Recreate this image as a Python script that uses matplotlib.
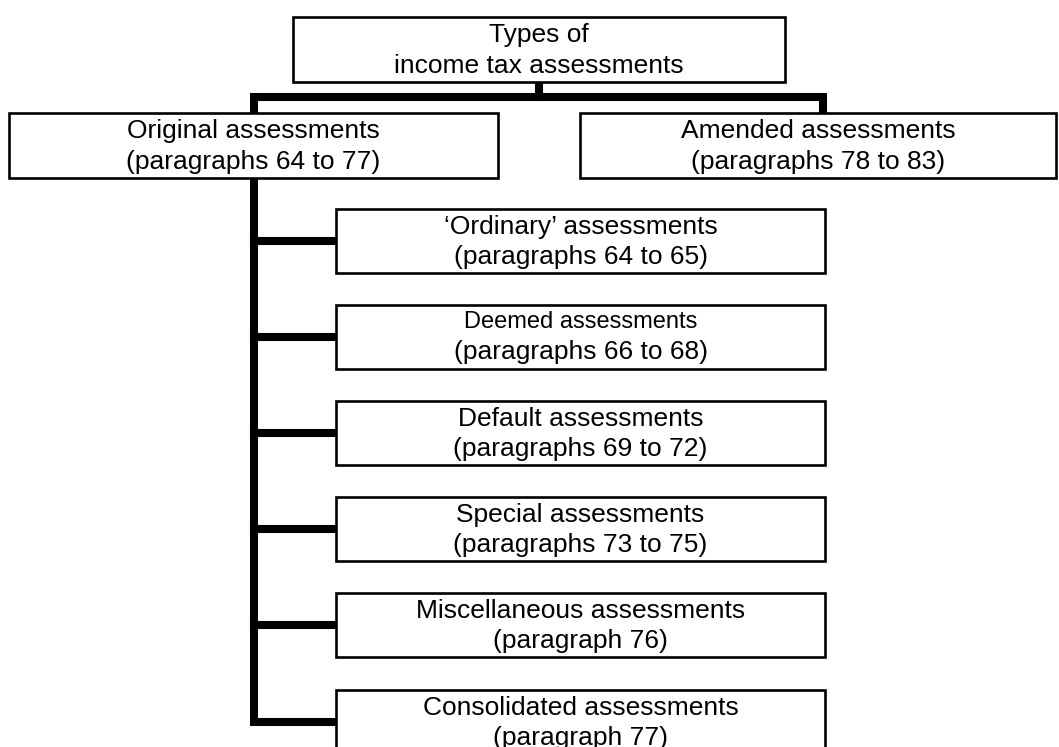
import matplotlib
matplotlib.use('Agg')
import matplotlib.pyplot as plt
from matplotlib.patches import Rectangle

plt.rcParams['font.family'] = ['Liberation Sans', 'DejaVu Sans']

# chart content
root_label = 'Types of\nincome tax assessments'
level1_labels = ['Original assessments\n(paragraphs 64 to 77)',
                 'Amended assessments\n(paragraphs 78 to 83)']
child_titles = ['\u2018Ordinary\u2019 assessments', 'Deemed assessments',
                'Default assessments', 'Special assessments',
                'Miscellaneous assessments', 'Consolidated assessments']
child_refs = ['(paragraphs 64 to 65)', '(paragraphs 66 to 68)',
              '(paragraphs 69 to 72)', '(paragraphs 73 to 75)',
              '(paragraph 76)', '(paragraph 77)']

# layout (pixel coords, y downwards)
W, H = 1059, 747
fig = plt.figure(figsize=(W / 100, H / 100), dpi=100)
ax = fig.add_axes([0, 0, 1, 1])
ax.set_xlim(0, W)
ax.set_ylim(H, 0)
ax.axis('off')

thin = 1.9
thick = 5.8
fs = 19


def box(x0, y0, x1, y1, text, size=fs):
    ax.add_patch(Rectangle((x0, y0), x1 - x0, y1 - y0, facecolor='white',
                           edgecolor='black', lw=thin, zorder=3))
    ax.text((x0 + x1) / 2, (y0 + y1) / 2 + 1, text, ha='center', va='center',
            fontsize=size, linespacing=1.32, zorder=4)


def line(xs, ys, lw=thick):
    ax.plot(xs, ys, color='black', lw=lw, solid_capstyle='projecting',
            solid_joinstyle='miter', zorder=2)


# root
box(293, 17, 785, 82, root_label)
line([539, 539], [82, 97])
line([254, 254, 823, 823], [113, 97, 97, 113])

# level 1
box(9, 113, 498, 178, level1_labels[0])
box(580, 113, 1056, 178, level1_labels[1])

# children of original assessments
child_x0, child_x1 = 336, 825
child_h = 64
tops = [209, 305, 401, 497, 593, 690]
spine_x = 254
centers = [t + child_h / 2 for t in tops]
line([spine_x, spine_x, child_x0], [178, centers[-1], centers[-1]])
for c in centers[:-1]:
    line([spine_x, child_x0], [c, c])

for i, t in enumerate(tops):
    if i == 1:
        # first line set a little smaller in the source
        ax.add_patch(Rectangle((child_x0, t), child_x1 - child_x0, child_h,
                               facecolor='white', edgecolor='black', lw=thin, zorder=3))
        cx = (child_x0 + child_x1) / 2
        ax.text(cx, t + 17, child_titles[i], ha='center', va='center',
                fontsize=17, zorder=4)
        ax.text(cx, t + 47, child_refs[i], ha='center', va='center',
                fontsize=fs, zorder=4)
    else:
        box(child_x0, t, child_x1, t + child_h,
            child_titles[i] + '\n' + child_refs[i])

fig.savefig('out.png', dpi=100, facecolor='white')
